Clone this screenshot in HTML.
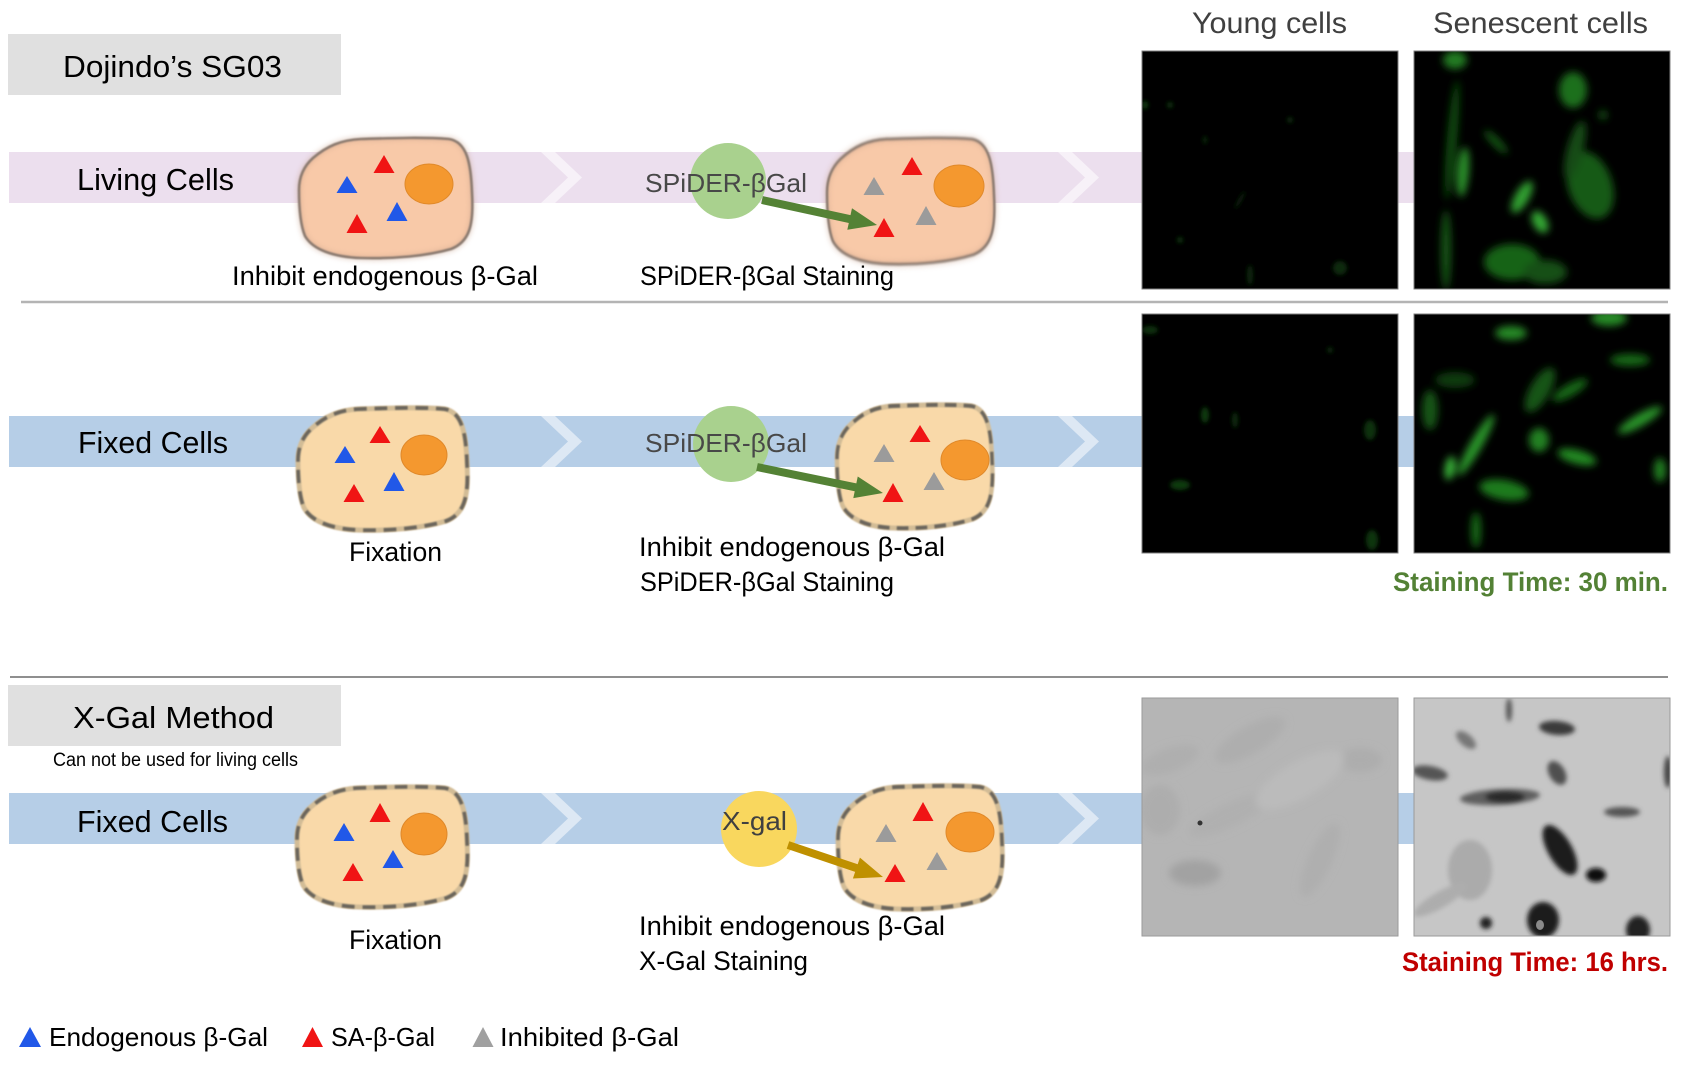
<!DOCTYPE html>
<html>
<head>
<meta charset="utf-8">
<style>
  html,body{margin:0;padding:0;background:#fff;}
  svg{display:block;}
  text{font-family:"Liberation Sans", "DejaVu Sans", sans-serif;}
</style>
</head>
<body>
<svg width="1686" height="1066" viewBox="0 0 1686 1066" xmlns="http://www.w3.org/2000/svg">
  <defs>
    <path id="blob" d="M 0,52 C 0,38 5,28 14,20 C 28,8 42,2 62,1 C 95,0 125,-1 150,1 C 168,4 172,25 173,55 C 175,88 170,104 152,111 C 128,118 95,121 62,120 C 35,119 14,112 6,98 C 1,86 0,68 0,52 Z"/>
    <filter id="soft" x="-10%" y="-10%" width="120%" height="120%"><feGaussianBlur stdDeviation="0.9"/></filter>
    <filter id="soft2" x="-10%" y="-10%" width="120%" height="120%"><feGaussianBlur stdDeviation="2.5"/></filter>
    <filter id="soft4" x="-20%" y="-20%" width="140%" height="140%"><feGaussianBlur stdDeviation="4"/></filter>
    <filter id="glow" x="-50%" y="-50%" width="200%" height="200%"><feGaussianBlur stdDeviation="4"/></filter>
    <filter id="glow2" x="-50%" y="-50%" width="200%" height="200%"><feGaussianBlur stdDeviation="2"/></filter>
    <clipPath id="p1y"><rect x="1142" y="51" width="256" height="238"/></clipPath>
    <clipPath id="p1s"><rect x="1414" y="51" width="256" height="238"/></clipPath>
    <clipPath id="p2y"><rect x="1142" y="314" width="256" height="239"/></clipPath>
    <clipPath id="p2s"><rect x="1414" y="314" width="256" height="239"/></clipPath>
    <clipPath id="p3y"><rect x="1142" y="698" width="256" height="238"/></clipPath>
    <clipPath id="p3s"><rect x="1414" y="698" width="256" height="238"/></clipPath>
  </defs>

  <!-- Header boxes -->
  <rect x="8" y="34" width="333" height="61" fill="#e0e0e0"/>
  <text x="63" y="77" font-size="31" fill="#000" textLength="219" lengthAdjust="spacingAndGlyphs">Dojindo’s SG03</text>

  <!-- Column titles -->
  <text x="1192" y="33" font-size="30" fill="#404040" textLength="155" lengthAdjust="spacingAndGlyphs">Young cells</text>
  <text x="1433" y="33" font-size="30" fill="#404040" textLength="215" lengthAdjust="spacingAndGlyphs">Senescent cells</text>

  <!-- Bands -->
  <rect x="9" y="152" width="1410" height="51" fill="#ecdfee"/>
  <polygon points="541,152 555,152 582,177.5 555,203 541,203 568,177.5" fill="#f7f1f8"/>
  <polygon points="1058,152 1072,152 1099,177.5 1072,203 1058,203 1085,177.5" fill="#f7f1f8"/>

  <rect x="9" y="416" width="1410" height="51" fill="#b6cee7"/>
  <polygon points="541,416 555,416 582,441.5 555,467 541,467 568,441.5" fill="#dde8f4"/>
  <polygon points="1058,416 1072,416 1099,441.5 1072,467 1058,467 1085,441.5" fill="#dde8f4"/>

  <rect x="9" y="793" width="1410" height="51" fill="#b6cee7"/>
  <polygon points="541,793 555,793 582,818.5 555,844 541,844 568,818.5" fill="#dde8f4"/>
  <polygon points="1058,793 1072,793 1099,818.5 1072,844 1058,844 1085,818.5" fill="#dde8f4"/>

  <!-- Band labels -->
  <text x="77" y="190" font-size="31" fill="#000" textLength="157" lengthAdjust="spacingAndGlyphs">Living Cells</text>
  <text x="78" y="453" font-size="31" fill="#000" textLength="150" lengthAdjust="spacingAndGlyphs">Fixed Cells</text>
  <text x="77" y="832" font-size="31" fill="#000" textLength="151" lengthAdjust="spacingAndGlyphs">Fixed Cells</text>

  <!-- Separator lines -->
  <line x1="21" y1="302" x2="1668" y2="302" stroke="#b4b4b4" stroke-width="2.5"/>
  <line x1="10" y1="677" x2="1668" y2="677" stroke="#8f8f8f" stroke-width="2"/>

  <!-- X-Gal header -->
  <rect x="8" y="685" width="333" height="61" fill="#e0e0e0"/>
  <text x="73" y="728" font-size="31" fill="#000" textLength="201" lengthAdjust="spacingAndGlyphs">X-Gal Method</text>
  <text x="53" y="766" font-size="19" fill="#000" textLength="245" lengthAdjust="spacingAndGlyphs">Can not be used for living cells</text>

  <!-- ===== Cells ===== -->
  <g transform="translate(299,138)">
    <use href="#blob" fill="#f8c9a8"/>
    <use href="#blob" fill="none" stroke="#c9a18a" stroke-width="6" opacity="0.35" filter="url(#soft2)"/>
    <use href="#blob" fill="none" stroke="#8b7a70" stroke-width="2.6" filter="url(#soft)"/>
  </g>
  <g transform="translate(827,138) scale(0.9655,1.05)">
    <use href="#blob" fill="#f8c9a8"/>
    <use href="#blob" fill="none" stroke="#c9a18a" stroke-width="6" opacity="0.35" filter="url(#soft2)"/>
    <use href="#blob" fill="none" stroke="#8b7a70" stroke-width="2.6" filter="url(#soft)"/>
  </g>
  <g transform="translate(298,408) scale(0.977,1.017)">
    <use href="#blob" fill="#f9d9a9"/>
    <use href="#blob" fill="none" stroke="#d2bc96" stroke-width="5" filter="url(#soft)"/>
    <use href="#blob" fill="none" stroke="#6a655b" stroke-width="3.6" stroke-dasharray="13 8" filter="url(#soft)"/>
  </g>
  <g transform="translate(837,405) scale(0.8966,1.025)">
    <use href="#blob" fill="#f9d9a9"/>
    <use href="#blob" fill="none" stroke="#d2bc96" stroke-width="5" filter="url(#soft)"/>
    <use href="#blob" fill="none" stroke="#6a655b" stroke-width="3.6" stroke-dasharray="13 8" filter="url(#soft)"/>
  </g>
  <g transform="translate(297,787) scale(0.983,1)">
    <use href="#blob" fill="#f9d9a9"/>
    <use href="#blob" fill="none" stroke="#d2bc96" stroke-width="5" filter="url(#soft)"/>
    <use href="#blob" fill="none" stroke="#6a655b" stroke-width="3.6" stroke-dasharray="13 8" filter="url(#soft)"/>
  </g>
  <g transform="translate(838,786) scale(0.948,1.025)">
    <use href="#blob" fill="#f9d9a9"/>
    <use href="#blob" fill="none" stroke="#d2bc96" stroke-width="5" filter="url(#soft)"/>
    <use href="#blob" fill="none" stroke="#6a655b" stroke-width="3.6" stroke-dasharray="13 8" filter="url(#soft)"/>
  </g>

  <!-- Nuclei -->
  <g fill="#f4982f" stroke="#e0892a" stroke-width="1">
    <ellipse cx="429" cy="184" rx="24" ry="20"/>
    <ellipse cx="959" cy="186" rx="25" ry="21"/>
    <ellipse cx="424" cy="455" rx="23" ry="20"/>
    <ellipse cx="965" cy="460" rx="24" ry="20"/>
    <ellipse cx="424" cy="834" rx="23" ry="21"/>
    <ellipse cx="970" cy="832" rx="24" ry="20"/>
  </g>

  <!-- Triangles -->
  <g fill="#f01414">
    <polygon points="384,155 394.5,173 373.5,173"/>
    <polygon points="357,214 367.5,233 346.5,233"/>
    <polygon points="912,157 922.5,175 901.5,175"/>
    <polygon points="884,218 894.5,237 873.5,237"/>
    <polygon points="380,426 390.5,443 369.5,443"/>
    <polygon points="354,484 364.5,502 343.5,502"/>
    <polygon points="920,425 930.5,442 909.5,442"/>
    <polygon points="893,483 903.5,502 882.5,502"/>
    <polygon points="380,803 390.5,822 369.5,822"/>
    <polygon points="353,863 363.5,881 342.5,881"/>
    <polygon points="923,802 933.5,821 912.5,821"/>
    <polygon points="895,864 905.5,882 884.5,882"/>
  </g>
  <g fill="#2158e8">
    <polygon points="347,176 357.5,193 336.5,193"/>
    <polygon points="397,202 407.5,221 386.5,221"/>
    <polygon points="345,446 355.5,463 334.5,463"/>
    <polygon points="394,472 404.5,491 383.5,491"/>
    <polygon points="344,823 354.5,841 333.5,841"/>
    <polygon points="393,850 403.5,868 382.5,868"/>
  </g>
  <g fill="#9b9b9b">
    <polygon points="874,177 884.5,195 863.5,195"/>
    <polygon points="926,206 936.5,225 915.5,225"/>
    <polygon points="884,444 894.5,462 873.5,462"/>
    <polygon points="934,472 944.5,490 923.5,490"/>
    <polygon points="886,824 896.5,842 875.5,842"/>
    <polygon points="937,852 947.5,870 926.5,870"/>
  </g>

  <!-- Reagent circles -->
  <circle cx="728" cy="181" r="38" fill="#a9d18e"/>
  <circle cx="731" cy="444" r="38" fill="#a9d18e"/>
  <circle cx="759" cy="829" r="38" fill="#f9d75e"/>

  <!-- Arrows -->
  <g transform="translate(762,200) rotate(12.26)" fill="#548235">
    <polygon points="0,-4 89.7,-4 89.7,-11 117.7,0 89.7,11 89.7,4 0,4"/>
  </g>
  <g transform="translate(757,467) rotate(11.66)" fill="#548235">
    <polygon points="0,-4 100.6,-4 100.6,-11 128.6,0 100.6,11 100.6,4 0,4"/>
  </g>
  <g transform="translate(788,845) rotate(18.62)" fill="#bf9000">
    <polygon points="0,-4 72.2,-4 72.2,-11 100.2,0 72.2,11 72.2,4 0,4"/>
  </g>

  <!-- Reagent labels -->
  <text x="645" y="192" font-size="26" fill="#484848" textLength="162" lengthAdjust="spacingAndGlyphs">SPiDER-βGal</text>
  <text x="645" y="452" font-size="26" fill="#484848" textLength="162" lengthAdjust="spacingAndGlyphs">SPiDER-βGal</text>
  <text x="722" y="830" font-size="26" fill="#404040" textLength="65" lengthAdjust="spacingAndGlyphs">X-gal</text>

  <!-- Step captions -->
  <text x="232" y="285" font-size="27" fill="#000" textLength="306" lengthAdjust="spacingAndGlyphs">Inhibit endogenous β-Gal</text>
  <text x="640" y="285" font-size="27" fill="#000" textLength="254" lengthAdjust="spacingAndGlyphs">SPiDER-βGal Staining</text>

  <text x="349" y="561" font-size="27" fill="#000" textLength="93" lengthAdjust="spacingAndGlyphs">Fixation</text>
  <text x="639" y="556" font-size="27" fill="#000" textLength="306" lengthAdjust="spacingAndGlyphs">Inhibit endogenous β-Gal</text>
  <text x="640" y="591" font-size="27" fill="#000" textLength="254" lengthAdjust="spacingAndGlyphs">SPiDER-βGal Staining</text>

  <text x="349" y="949" font-size="27" fill="#000" textLength="93" lengthAdjust="spacingAndGlyphs">Fixation</text>
  <text x="639" y="935" font-size="27" fill="#000" textLength="306" lengthAdjust="spacingAndGlyphs">Inhibit endogenous β-Gal</text>
  <text x="639" y="970" font-size="27" fill="#000" textLength="169" lengthAdjust="spacingAndGlyphs">X-Gal Staining</text>

  <!-- Staining times -->
  <text x="1393" y="591" font-size="27" font-weight="bold" fill="#538135" textLength="275" lengthAdjust="spacingAndGlyphs">Staining Time: 30 min.</text>
  <text x="1402" y="971" font-size="27" font-weight="bold" fill="#c00000" textLength="266" lengthAdjust="spacingAndGlyphs">Staining Time: 16 hrs.</text>

  <!-- ===== Photos ===== -->
  <!-- Row 1 young -->
  <rect x="1142" y="51" width="256" height="238" fill="#000"/>
  <g clip-path="url(#p1y)" filter="url(#glow2)">
    <ellipse cx="1170" cy="105" rx="3" ry="3" fill="#0c360c"/>
    <ellipse cx="1180" cy="240" rx="3" ry="3" fill="#0c360c"/>
    <ellipse cx="1205" cy="140" rx="2" ry="4" fill="#0a2c0a"/>
    <ellipse cx="1340" cy="268" rx="7" ry="7" fill="#0a2c0a"/>
    <ellipse cx="1290" cy="120" rx="3" ry="3" fill="#0a2c0a"/>
    <ellipse cx="1250" cy="275" rx="3" ry="10" fill="#092809"/>
    <ellipse cx="1145" cy="105" rx="3" ry="4" fill="#0f400f"/>
    <ellipse cx="1240" cy="200" rx="2" ry="10" fill="#081f08" transform="rotate(30 1240 200)"/>
  </g>
  <rect x="1142" y="51" width="256" height="238" fill="none" stroke="#7f7f7f" stroke-width="1"/>

  <!-- Row 1 senescent -->
  <rect x="1414" y="51" width="256" height="238" fill="#000"/>
  <g clip-path="url(#p1s)" filter="url(#glow)">
    <ellipse cx="1452" cy="140" rx="5" ry="60" fill="#114811" transform="rotate(5 1452 140)"/>
    <ellipse cx="1446" cy="250" rx="5" ry="40" fill="#145514"/>
    <ellipse cx="1463" cy="172" rx="6" ry="25" fill="#2a8f2a" transform="rotate(5 1463 172)"/>
    <ellipse cx="1455" cy="60" rx="12" ry="9" fill="#227a22"/>
    <ellipse cx="1496" cy="142" rx="4" ry="16" fill="#165816" transform="rotate(-45 1496 142)"/>
    <ellipse cx="1522" cy="197" rx="7" ry="18" fill="#30a030" transform="rotate(30 1522 197)"/>
    <ellipse cx="1540" cy="222" rx="7" ry="12" fill="#36a836" transform="rotate(-30 1540 222)"/>
    <ellipse cx="1573" cy="90" rx="14" ry="18" fill="#1f701f"/>
    <ellipse cx="1590" cy="185" rx="22" ry="35" fill="#155a15" transform="rotate(-20 1590 185)"/>
    <ellipse cx="1575" cy="150" rx="8" ry="30" fill="#124c12" transform="rotate(15 1575 150)"/>
    <ellipse cx="1512" cy="262" rx="28" ry="18" fill="#186318"/>
    <ellipse cx="1545" cy="272" rx="22" ry="12" fill="#134f13"/>
    <ellipse cx="1603" cy="115" rx="4" ry="5" fill="#165616"/>
  </g>
  <rect x="1414" y="51" width="256" height="238" fill="none" stroke="#7f7f7f" stroke-width="1"/>

  <!-- Row 2 young -->
  <rect x="1142" y="314" width="256" height="239" fill="#000"/>
  <g clip-path="url(#p2y)" filter="url(#glow2)">
    <ellipse cx="1205" cy="415" rx="4" ry="8" fill="#0d3a0d"/>
    <ellipse cx="1180" cy="485" rx="10" ry="5" fill="#0d3a0d"/>
    <ellipse cx="1370" cy="430" rx="6" ry="10" fill="#0b320b"/>
    <ellipse cx="1372" cy="540" rx="6" ry="10" fill="#0b350b"/>
    <ellipse cx="1330" cy="350" rx="3" ry="3" fill="#092a09"/>
    <ellipse cx="1150" cy="330" rx="8" ry="4" fill="#0a300a"/>
    <ellipse cx="1235" cy="420" rx="3" ry="8" fill="#092b09"/>
  </g>
  <rect x="1142" y="314" width="256" height="239" fill="none" stroke="#7f7f7f" stroke-width="1"/>

  <!-- Row 2 senescent -->
  <rect x="1414" y="314" width="256" height="239" fill="#000"/>
  <g clip-path="url(#p2s)" filter="url(#glow)">
    <ellipse cx="1455" cy="380" rx="20" ry="8" fill="#0e3a0e"/>
    <ellipse cx="1430" cy="410" rx="8" ry="20" fill="#145514"/>
    <ellipse cx="1476" cy="445" rx="6" ry="35" fill="#2a952a" transform="rotate(30 1476 445)"/>
    <ellipse cx="1450" cy="468" rx="5" ry="12" fill="#3ab83a" transform="rotate(10 1450 468)"/>
    <ellipse cx="1511" cy="333" rx="16" ry="7" fill="#278a27"/>
    <ellipse cx="1609" cy="318" rx="18" ry="8" fill="#278a27"/>
    <ellipse cx="1640" cy="420" rx="25" ry="6" fill="#2a952a" transform="rotate(-30 1640 420)"/>
    <ellipse cx="1660" cy="470" rx="6" ry="12" fill="#228022"/>
    <ellipse cx="1539" cy="440" rx="10" ry="12" fill="#228022"/>
    <ellipse cx="1577" cy="457" rx="20" ry="7" fill="#238823" transform="rotate(15 1577 457)"/>
    <ellipse cx="1504" cy="490" rx="25" ry="10" fill="#1f7a1f" transform="rotate(10 1504 490)"/>
    <ellipse cx="1570" cy="390" rx="20" ry="6" fill="#196919" transform="rotate(-30 1570 390)"/>
    <ellipse cx="1540" cy="390" rx="10" ry="25" fill="#145514" transform="rotate(30 1540 390)"/>
    <ellipse cx="1630" cy="360" rx="20" ry="6" fill="#196919"/>
    <ellipse cx="1476" cy="530" rx="5" ry="18" fill="#196919"/>
  </g>
  <rect x="1414" y="314" width="256" height="239" fill="none" stroke="#7f7f7f" stroke-width="1"/>

  <!-- Row 3 young (X-gal) -->
  <rect x="1142" y="698" width="256" height="238" fill="#b5b5b5"/>
  <g clip-path="url(#p3y)" filter="url(#soft4)">
    <ellipse cx="1250" cy="740" rx="40" ry="14" fill="#aeaeae" transform="rotate(-30 1250 740)"/>
    <ellipse cx="1170" cy="760" rx="30" ry="12" fill="#afafaf" transform="rotate(-20 1170 760)"/>
    <ellipse cx="1230" cy="815" rx="45" ry="12" fill="#b0b0b0" transform="rotate(-25 1230 815)"/>
    <ellipse cx="1320" cy="860" rx="12" ry="40" fill="#afafaf" transform="rotate(25 1320 860)"/>
    <ellipse cx="1195" cy="873" rx="26" ry="13" fill="#a2a2a2"/>
    <ellipse cx="1360" cy="760" rx="22" ry="12" fill="#adadad"/>
    <ellipse cx="1160" cy="810" rx="20" ry="25" fill="#adadad"/>
    <ellipse cx="1300" cy="780" rx="50" ry="18" fill="#bbbbbb" transform="rotate(-30 1300 780)"/>
  </g>
  <circle cx="1200" cy="823" r="2.5" fill="#333"/>
  <rect x="1142" y="698" width="256" height="238" fill="none" stroke="#9a9a9a" stroke-width="1"/>

  <!-- Row 3 senescent (X-gal) -->
  <rect x="1414" y="698" width="256" height="238" fill="#c6c6c6"/>
  <g clip-path="url(#p3s)" filter="url(#soft2)">
    <ellipse cx="1470" cy="870" rx="22" ry="30" fill="#ababab"/>
    <ellipse cx="1440" cy="900" rx="30" ry="8" fill="#adadad" transform="rotate(-30 1440 900)"/>
    <ellipse cx="1557" cy="728" rx="18" ry="7" fill="#3a3a3a" transform="rotate(5 1557 728)"/>
    <ellipse cx="1557" cy="773" rx="8" ry="13" fill="#505050" transform="rotate(-30 1557 773)"/>
    <ellipse cx="1500" cy="797" rx="40" ry="8" fill="#5f5f5f" transform="rotate(-3 1500 797)"/>
    <ellipse cx="1505" cy="797" rx="20" ry="6" fill="#2a2a2a"/>
    <ellipse cx="1430" cy="773" rx="18" ry="7" fill="#555" transform="rotate(10 1430 773)"/>
    <ellipse cx="1560" cy="850" rx="12" ry="28" fill="#1e1e1e" transform="rotate(-30 1560 850)"/>
    <ellipse cx="1596" cy="875" rx="10" ry="7" fill="#111"/>
    <ellipse cx="1543" cy="920" rx="16" ry="18" fill="#1a1a1a"/>
    <ellipse cx="1486" cy="923" rx="6" ry="6" fill="#222"/>
    <ellipse cx="1638" cy="930" rx="12" ry="14" fill="#222"/>
    <ellipse cx="1622" cy="812" rx="18" ry="5" fill="#555"/>
    <ellipse cx="1466" cy="740" rx="12" ry="6" fill="#777" transform="rotate(40 1466 740)"/>
    <ellipse cx="1509" cy="710" rx="3" ry="12" fill="#555"/>
    <ellipse cx="1668" cy="772" rx="4" ry="16" fill="#444"/>
  </g>
  <ellipse cx="1540" cy="925" rx="4" ry="5" fill="#8a8a8a"/>
  <rect x="1414" y="698" width="256" height="238" fill="none" stroke="#9a9a9a" stroke-width="1"/>

  <!-- Legend -->
  <polygon points="30,1027 41,1047 19,1047" fill="#2158e8"/>
  <text x="49" y="1046" font-size="26" fill="#000" textLength="219" lengthAdjust="spacingAndGlyphs">Endogenous β-Gal</text>
  <polygon points="312.5,1027 323,1047 302,1047" fill="#f01414"/>
  <text x="331" y="1046" font-size="26" fill="#000" textLength="104" lengthAdjust="spacingAndGlyphs">SA-β-Gal</text>
  <polygon points="483,1027 493.5,1047 472.5,1047" fill="#a0a0a0"/>
  <text x="500" y="1046" font-size="26" fill="#000" textLength="179" lengthAdjust="spacingAndGlyphs">Inhibited β-Gal</text>
</svg>
</body>
</html>
